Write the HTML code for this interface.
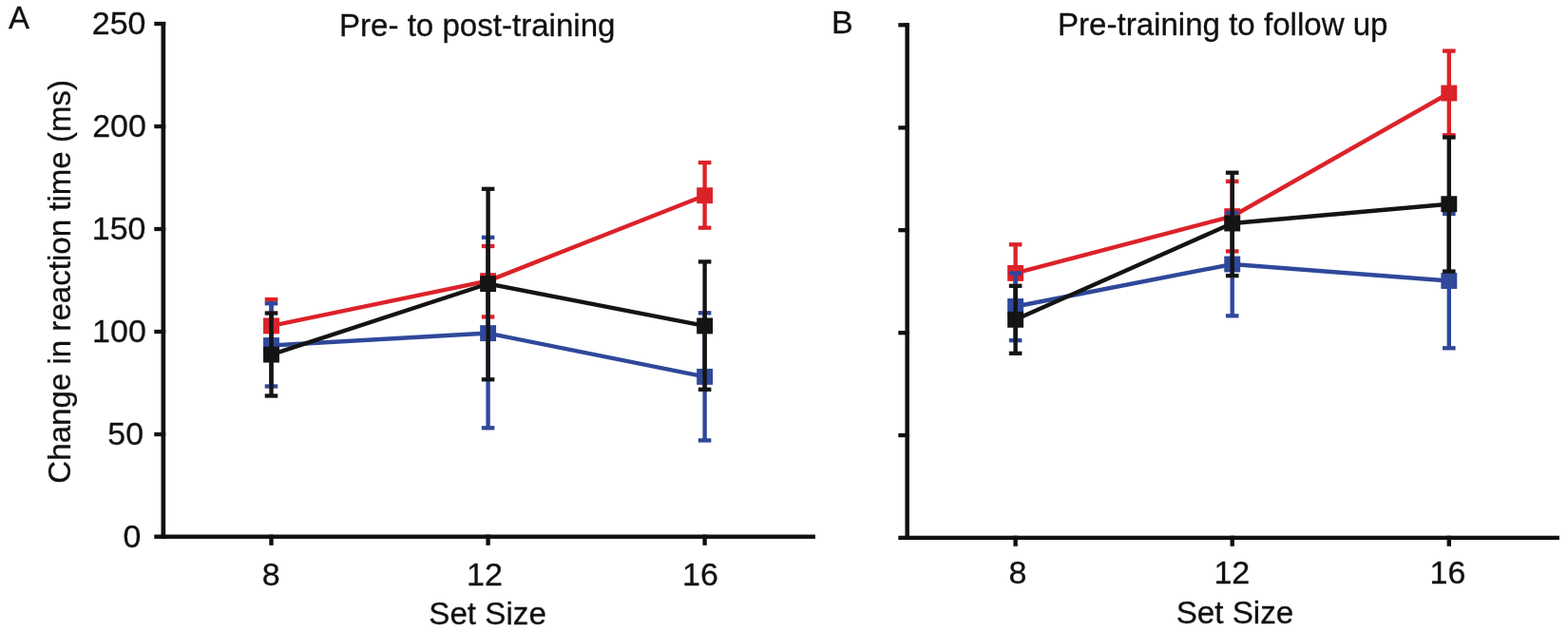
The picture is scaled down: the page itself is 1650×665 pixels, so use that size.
<!DOCTYPE html>
<html><head><meta charset="utf-8"><title>Change in reaction time</title>
<style>
html,body{margin:0;padding:0;background:#fff;}
svg{display:block;}
text{font-family:"Liberation Sans",Arial,Helvetica,sans-serif;fill:#111;stroke:#111;stroke-width:0.3px;}
</style></head>
<body>
<svg width="1650" height="665" viewBox="0 0 1650 665">
<rect x="169.5" y="23.0" width="4.70" height="543.90" fill="#111111"/>
<rect x="162.3" y="562.5" width="695.60" height="4.40" fill="#111111"/>
<rect x="162.3" y="22.85" width="11.90" height="4.3" fill="#111111"/>
<rect x="162.3" y="130.85" width="11.90" height="4.3" fill="#111111"/>
<rect x="162.3" y="238.85" width="11.90" height="4.3" fill="#111111"/>
<rect x="162.3" y="346.85" width="11.90" height="4.3" fill="#111111"/>
<rect x="162.3" y="454.85" width="11.90" height="4.3" fill="#111111"/>
<rect x="283.30" y="562.5" width="4.4" height="11.30" fill="#111111"/>
<rect x="511.40" y="562.5" width="4.4" height="11.30" fill="#111111"/>
<rect x="739.40" y="562.5" width="4.4" height="11.30" fill="#111111"/>
<rect x="952.4" y="24.2" width="4.50" height="543.80" fill="#111111"/>
<rect x="945.3" y="563.7" width="695.60" height="4.30" fill="#111111"/>
<rect x="945.3" y="24.15" width="11.60" height="4.3" fill="#111111"/>
<rect x="945.3" y="132.25" width="11.60" height="4.3" fill="#111111"/>
<rect x="945.3" y="240.05" width="11.60" height="4.3" fill="#111111"/>
<rect x="945.3" y="348.05" width="11.60" height="4.3" fill="#111111"/>
<rect x="945.3" y="455.85" width="11.60" height="4.3" fill="#111111"/>
<rect x="1066.40" y="563.7" width="4.4" height="11.10" fill="#111111"/>
<rect x="1294.50" y="563.7" width="4.4" height="11.10" fill="#111111"/>
<rect x="1522.60" y="563.7" width="4.4" height="11.10" fill="#111111"/>
<line x1="285.5" y1="315.1" x2="285.5" y2="370.7" stroke="#dc2229" stroke-width="4.4"/>
<rect x="278.70" y="312.95" width="13.6" height="4.3" fill="#dc2229"/>
<rect x="278.70" y="368.55" width="13.6" height="4.3" fill="#dc2229"/>
<line x1="513.6" y1="259.0" x2="513.6" y2="333.4" stroke="#dc2229" stroke-width="4.4"/>
<rect x="506.80" y="256.85" width="13.6" height="4.3" fill="#dc2229"/>
<rect x="506.80" y="331.25" width="13.6" height="4.3" fill="#dc2229"/>
<line x1="741.6" y1="171.1" x2="741.6" y2="239.7" stroke="#dc2229" stroke-width="4.4"/>
<rect x="734.80" y="168.95" width="13.6" height="4.3" fill="#dc2229"/>
<rect x="734.80" y="237.55" width="13.6" height="4.3" fill="#dc2229"/>
<polyline points="285.5,342.9 513.6,295.6 741.6,205.7" fill="none" stroke="#dc2229" stroke-width="4.4" stroke-linejoin="miter"/>
<rect x="277.05" y="334.45" width="16.9" height="16.9" fill="#dc2229"/>
<rect x="505.15" y="287.15" width="16.9" height="16.9" fill="#dc2229"/>
<rect x="733.15" y="197.25" width="16.9" height="16.9" fill="#dc2229"/>
<line x1="285.5" y1="319.3" x2="285.5" y2="406.5" stroke="#2f489a" stroke-width="4.4"/>
<rect x="278.70" y="317.15" width="13.6" height="4.3" fill="#2f489a"/>
<rect x="278.70" y="404.35" width="13.6" height="4.3" fill="#2f489a"/>
<line x1="513.6" y1="249.8" x2="513.6" y2="450.3" stroke="#2f489a" stroke-width="4.4"/>
<rect x="506.80" y="247.65" width="13.6" height="4.3" fill="#2f489a"/>
<rect x="506.80" y="448.15" width="13.6" height="4.3" fill="#2f489a"/>
<line x1="741.6" y1="329.3" x2="741.6" y2="463.4" stroke="#2f489a" stroke-width="4.4"/>
<rect x="734.80" y="327.15" width="13.6" height="4.3" fill="#2f489a"/>
<rect x="734.80" y="461.25" width="13.6" height="4.3" fill="#2f489a"/>
<polyline points="285.5,363.5 513.6,350.6 741.6,396.4" fill="none" stroke="#2f489a" stroke-width="4.4" stroke-linejoin="miter"/>
<rect x="277.05" y="355.05" width="16.9" height="16.9" fill="#2f489a"/>
<rect x="505.15" y="342.15" width="16.9" height="16.9" fill="#2f489a"/>
<rect x="733.15" y="387.95" width="16.9" height="16.9" fill="#2f489a"/>
<line x1="285.5" y1="329.5" x2="285.5" y2="416.5" stroke="#141414" stroke-width="4.4"/>
<rect x="278.70" y="327.35" width="13.6" height="4.3" fill="#141414"/>
<rect x="278.70" y="414.35" width="13.6" height="4.3" fill="#141414"/>
<line x1="513.6" y1="198.8" x2="513.6" y2="399.3" stroke="#141414" stroke-width="4.4"/>
<rect x="506.80" y="196.65" width="13.6" height="4.3" fill="#141414"/>
<rect x="506.80" y="397.15" width="13.6" height="4.3" fill="#141414"/>
<line x1="741.6" y1="275.4" x2="741.6" y2="409.8" stroke="#141414" stroke-width="4.4"/>
<rect x="734.80" y="273.25" width="13.6" height="4.3" fill="#141414"/>
<rect x="734.80" y="407.65" width="13.6" height="4.3" fill="#141414"/>
<polyline points="285.5,373.1 513.6,298.6 741.6,342.9" fill="none" stroke="#141414" stroke-width="4.4" stroke-linejoin="miter"/>
<rect x="277.05" y="364.65" width="16.9" height="16.9" fill="#141414"/>
<rect x="505.15" y="290.15" width="16.9" height="16.9" fill="#141414"/>
<rect x="733.15" y="334.45" width="16.9" height="16.9" fill="#141414"/>
<line x1="1068.6" y1="257.3" x2="1068.6" y2="317.5" stroke="#dc2229" stroke-width="4.4"/>
<rect x="1061.80" y="255.15" width="13.6" height="4.3" fill="#dc2229"/>
<rect x="1061.80" y="315.35" width="13.6" height="4.3" fill="#dc2229"/>
<line x1="1296.7" y1="190.8" x2="1296.7" y2="264.4" stroke="#dc2229" stroke-width="4.4"/>
<rect x="1289.90" y="188.65" width="13.6" height="4.3" fill="#dc2229"/>
<rect x="1289.90" y="262.25" width="13.6" height="4.3" fill="#dc2229"/>
<line x1="1524.8" y1="53.6" x2="1524.8" y2="142.2" stroke="#dc2229" stroke-width="4.4"/>
<rect x="1518.00" y="51.45" width="13.6" height="4.3" fill="#dc2229"/>
<rect x="1518.00" y="140.05" width="13.6" height="4.3" fill="#dc2229"/>
<polyline points="1068.6,287.4 1296.7,227.6 1524.8,98.0" fill="none" stroke="#dc2229" stroke-width="4.4" stroke-linejoin="miter"/>
<rect x="1060.15" y="278.95" width="16.9" height="16.9" fill="#dc2229"/>
<rect x="1288.25" y="219.15" width="16.9" height="16.9" fill="#dc2229"/>
<rect x="1516.35" y="89.55" width="16.9" height="16.9" fill="#dc2229"/>
<line x1="1068.6" y1="287.4" x2="1068.6" y2="358.2" stroke="#2f489a" stroke-width="4.4"/>
<rect x="1061.80" y="285.25" width="13.6" height="4.3" fill="#2f489a"/>
<rect x="1061.80" y="356.05" width="13.6" height="4.3" fill="#2f489a"/>
<line x1="1296.7" y1="224.0" x2="1296.7" y2="332.3" stroke="#2f489a" stroke-width="4.4"/>
<rect x="1289.90" y="221.85" width="13.6" height="4.3" fill="#2f489a"/>
<rect x="1289.90" y="330.15" width="13.6" height="4.3" fill="#2f489a"/>
<line x1="1524.8" y1="224.9" x2="1524.8" y2="366.3" stroke="#2f489a" stroke-width="4.4"/>
<rect x="1518.00" y="222.75" width="13.6" height="4.3" fill="#2f489a"/>
<rect x="1518.00" y="364.15" width="13.6" height="4.3" fill="#2f489a"/>
<polyline points="1068.6,322.5 1296.7,278.0 1524.8,295.5" fill="none" stroke="#2f489a" stroke-width="4.4" stroke-linejoin="miter"/>
<rect x="1060.15" y="314.05" width="16.9" height="16.9" fill="#2f489a"/>
<rect x="1288.25" y="269.55" width="16.9" height="16.9" fill="#2f489a"/>
<rect x="1516.35" y="287.05" width="16.9" height="16.9" fill="#2f489a"/>
<line x1="1068.6" y1="300.8" x2="1068.6" y2="371.8" stroke="#141414" stroke-width="4.4"/>
<rect x="1061.80" y="298.65" width="13.6" height="4.3" fill="#141414"/>
<rect x="1061.80" y="369.65" width="13.6" height="4.3" fill="#141414"/>
<line x1="1296.7" y1="181.7" x2="1296.7" y2="290.1" stroke="#141414" stroke-width="4.4"/>
<rect x="1289.90" y="179.55" width="13.6" height="4.3" fill="#141414"/>
<rect x="1289.90" y="287.95" width="13.6" height="4.3" fill="#141414"/>
<line x1="1524.8" y1="144.5" x2="1524.8" y2="285.6" stroke="#141414" stroke-width="4.4"/>
<rect x="1518.00" y="142.35" width="13.6" height="4.3" fill="#141414"/>
<rect x="1518.00" y="283.45" width="13.6" height="4.3" fill="#141414"/>
<polyline points="1068.6,336.3 1296.7,235.0 1524.8,214.7" fill="none" stroke="#141414" stroke-width="4.4" stroke-linejoin="miter"/>
<rect x="1060.15" y="327.85" width="16.9" height="16.9" fill="#141414"/>
<rect x="1288.25" y="226.55" width="16.9" height="16.9" fill="#141414"/>
<rect x="1516.35" y="206.25" width="16.9" height="16.9" fill="#141414"/>
<text x="8.9" y="30.3" font-size="33" text-anchor="start">A</text>
<text x="875" y="34.8" font-size="34" text-anchor="start">B</text>
<text x="357" y="38.1" font-size="33.1" text-anchor="start">Pre- to post-training</text>
<text x="1113" y="36.8" font-size="33.1" text-anchor="start">Pre-training to follow up</text>
<text x="153.5" y="36.3" font-size="34" text-anchor="end">250</text>
<text x="153.9" y="144.2" font-size="34" text-anchor="end">200</text>
<text x="153.5" y="251.9" font-size="34" text-anchor="end">150</text>
<text x="153.8" y="360.1" font-size="34" text-anchor="end">100</text>
<text x="151.1" y="467.9" font-size="34" text-anchor="end">50</text>
<text x="148.3" y="575.8" font-size="34" text-anchor="end">0</text>
<text x="285.1" y="616.2" font-size="34" text-anchor="middle">8</text>
<text x="510.0" y="616" font-size="34" text-anchor="middle">12</text>
<text x="737.0" y="616" font-size="34" text-anchor="middle">16</text>
<text x="513.1" y="657.3" font-size="33.2" text-anchor="middle">Set Size</text>
<text x="1071" y="614" font-size="34" text-anchor="middle">8</text>
<text x="1296.3" y="613.7" font-size="34" text-anchor="middle">12</text>
<text x="1523.5" y="613.7" font-size="34" text-anchor="middle">16</text>
<text x="1299.5" y="655.5" font-size="33.2" text-anchor="middle">Set Size</text>
<text x="73.6" y="296.3" font-size="33.1" text-anchor="middle" transform="rotate(-90 73.6 296.3)">Change in reaction time (ms)</text>
</svg>
</body></html>
